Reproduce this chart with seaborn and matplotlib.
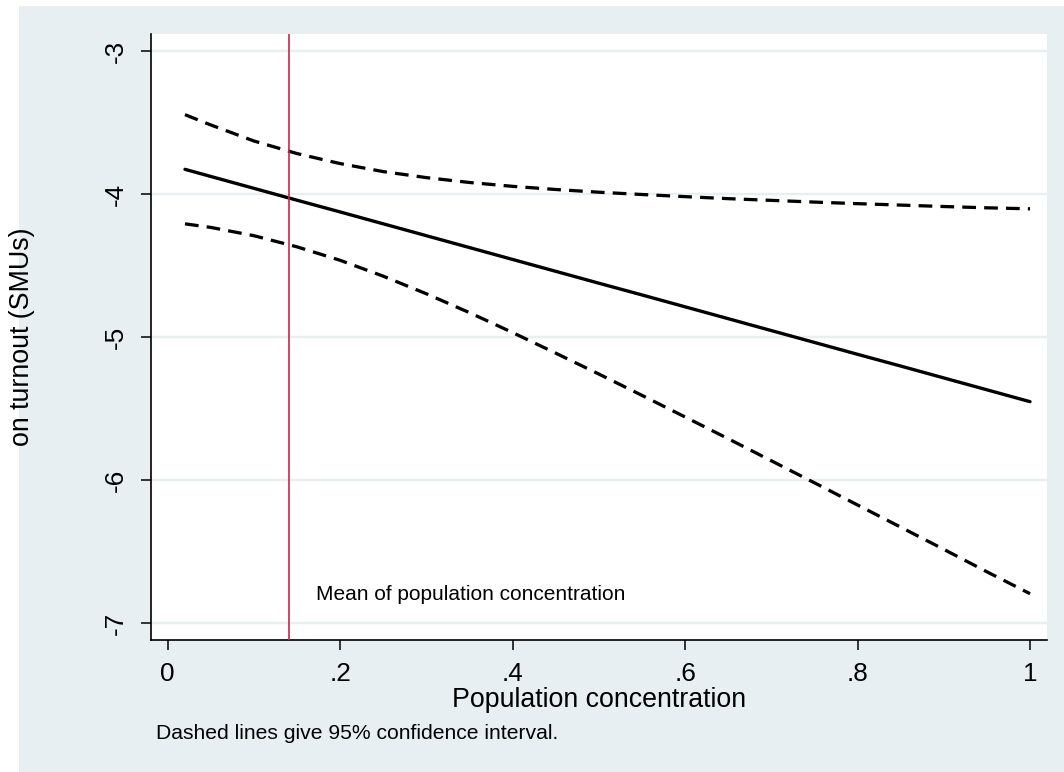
import matplotlib
matplotlib.use("Agg")
import matplotlib.pyplot as plt
from matplotlib.patches import Rectangle
import pandas as pd
import seaborn as sns

# values
pop_conc = [0.02, 0.05, 0.10, 0.15, 0.20, 0.25, 0.30, 0.35, 0.40, 0.45, 0.50,
            0.55, 0.60, 0.65, 0.70, 0.75, 0.80, 0.85, 0.90, 0.95, 1.00]
effect = [-3.827, -3.877, -3.960, -4.043, -4.125, -4.208, -4.291, -4.374, -4.457,
          -4.540, -4.623, -4.705, -4.788, -4.871, -4.954, -5.037, -5.120, -5.202,
          -5.285, -5.368, -5.451]
ci_upper = [-3.445, -3.517, -3.629, -3.717, -3.787, -3.843, -3.885, -3.919, -3.946,
            -3.968, -3.987, -4.003, -4.018, -4.032, -4.044, -4.056, -4.067, -4.077,
            -4.087, -4.096, -4.103]
ci_lower = [-4.208, -4.233, -4.291, -4.369, -4.463, -4.574, -4.697, -4.829, -4.968,
            -5.112, -5.258, -5.407, -5.558, -5.710, -5.864, -6.018, -6.173, -6.328,
            -6.483, -6.640, -6.793]
mean_pop_conc = 0.1407

x_ticks = [0, 0.2, 0.4, 0.6, 0.8, 1.0]
x_ticklabels = ["0", ".2", ".4", ".6", ".8", "1"]
y_ticks = [-7, -6, -5, -4, -3]
y_ticklabels = ["-7", "-6", "-5", "-4", "-3"]

df = pd.DataFrame({"x": pop_conc, "effect": effect, "upper": ci_upper, "lower": ci_lower})

sns.set_style("white")
plt.rcParams["font.family"] = ["Liberation Sans", "DejaVu Sans"]
plt.rcParams["text.color"] = "black"
plt.rcParams["axes.labelcolor"] = "black"
plt.rcParams["xtick.color"] = "black"
plt.rcParams["ytick.color"] = "black"

bg = "#e8eff2"
fig = plt.figure(figsize=(10.64, 7.72), dpi=100, facecolor="white")
# stata-style graph region (small white strip left/top)
fig.patches.append(Rectangle((19 / 1064, 0), 1 - 19 / 1064, 766 / 772,
                             transform=fig.transFigure, facecolor=bg,
                             edgecolor="none", zorder=-10))

ax = fig.add_axes([151 / 1064, 132 / 772, 896 / 1064, 606 / 772])
ax.set_facecolor("white")

for yt in y_ticks:
    ax.axhline(yt, color=bg, lw=1.7, zorder=1)

dash = (0, (4.2, 2.5))
sns.lineplot(data=df, x="x", y="upper", ax=ax, color="black", lw=2.35,
             linestyle=dash, sort=False, estimator=None, zorder=3)
sns.lineplot(data=df, x="x", y="effect", ax=ax, color="black", lw=2.4,
             sort=False, estimator=None, zorder=3)
sns.lineplot(data=df, x="x", y="lower", ax=ax, color="black", lw=2.35,
             linestyle=dash, sort=False, estimator=None, zorder=3)

ax.axvline(mean_pop_conc, color="#c8254f", lw=1.2, zorder=4)
ax.text(0.172, -6.84, "Mean of population concentration", fontsize=15,
        va="baseline", ha="left")

ax.set_xlim(-0.0194, 1.0197)
ax.set_ylim(-7.1167, -2.8812)
ax.set_xticks(x_ticks)
ax.set_xticklabels(x_ticklabels, fontsize=18.8)
ax.set_yticks(y_ticks)
ax.set_yticklabels(y_ticklabels, fontsize=18.8, rotation=90, va="center")
ax.tick_params(axis="both", direction="out", length=7.5, width=1.1,
               color="black", left=True, bottom=True)
ax.tick_params(axis="x", pad=8)
ax.tick_params(axis="y", pad=9)

for side in ["top", "right"]:
    ax.spines[side].set_visible(False)
for side in ["left", "bottom"]:
    ax.spines[side].set_color("black")
    ax.spines[side].set_linewidth(1.2)

ax.set_xlabel("Population concentration", fontsize=19.3, va="center")
ax.xaxis.set_label_coords(0.5, -0.099)
ax.set_ylabel("on turnout (SMUs)", fontsize=19.3, va="center")
ax.yaxis.set_label_coords(-0.144, 0.5)

fig.text(156 / 1064, 1 - 739.3 / 772, "Dashed lines give 95% confidence interval.",
         fontsize=15.2, va="baseline", ha="left")

fig.savefig("out.png", dpi=100, facecolor=fig.get_facecolor())
